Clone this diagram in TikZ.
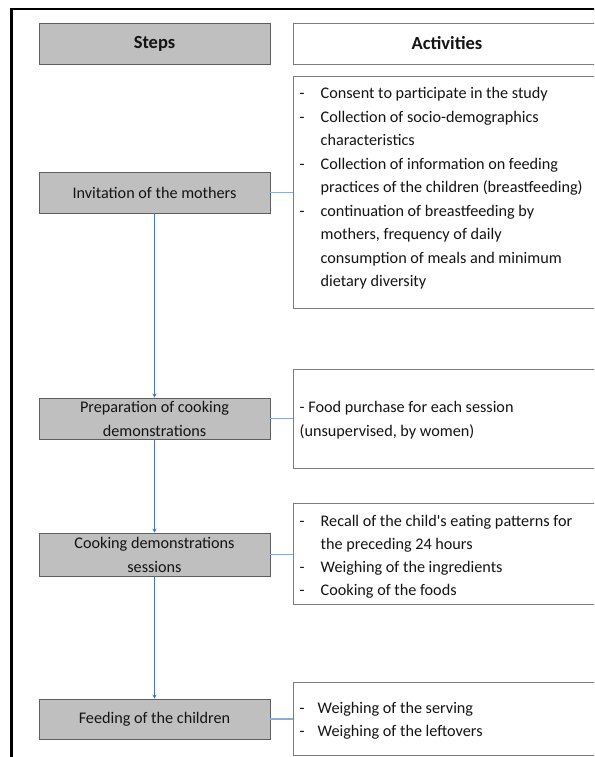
\documentclass[tikz,border=0pt]{standalone}
\usepackage{fontspec}
\setmainfont{Carlito}
\usetikzlibrary{arrows.meta}
\definecolor{stepfill}{RGB}{191,191,191}
\definecolor{stepdraw}{RGB}{95,95,95}
\definecolor{actdraw}{RGB}{125,125,125}
\definecolor{flowblue}{RGB}{68,114,196}
\definecolor{linkblue}{RGB}{143,170,220}
\definecolor{txt}{RGB}{20,20,20}
\tikzset{
  stepbox/.style={rectangle, draw=stepdraw, line width=0.9pt, fill=stepfill, minimum width=231pt, inner sep=0pt, align=center, text=txt, font=\fontsize{16.2}{24}\selectfont},
  actbox/.style={rectangle, draw=actdraw, line width=0.9pt, fill=white, minimum width=327pt, inner sep=0pt},
  acttext/.style={anchor=base west, inner sep=0pt, text=txt, font=\fontsize{16.2}{23.5}\selectfont},
  flow/.style={draw=flowblue, line width=0.7pt, -{Stealth[length=4pt,width=4pt]}},
  link/.style={draw=linkblue, line width=1.2pt},
  hdr/.style={font=\fontsize{18.5}{22}\selectfont\bfseries}
}
\begin{document}
\begin{tikzpicture}[x=1pt,y=-1pt]
\useasboundingbox (0,0) rectangle (594,757);
\clip (0,0) rectangle (594,757);
\fill[white] (0,0) rectangle (594,757);
% outer frame
\draw[line width=2.5pt] (11.5,760) -- (11.5,9) -- (600,9);
% headers
\node[stepbox, minimum height=41pt, hdr] (steps) at (154.5,43.5) {Steps};
\node[actbox, minimum height=41pt, text=txt, hdr] (acts) at (456.5,43.5) {\hspace*{-19pt}Activities};
% steps
\node[stepbox, minimum height=41pt] (inv) at (154.5,192.5) {Invitation of the mothers};
\node[stepbox, minimum height=41pt] (prep) at (154.5,418.5) {Preparation of cooking\\demonstrations};
\node[stepbox, minimum height=43pt] (cook) at (154.5,554.5) {Cooking demonstrations\\sessions};
\node[stepbox, minimum height=40pt] (feed) at (154.5,719) {Feeding of the children};
% activity boxes
\node[actbox, minimum height=232pt] (a1) at (456.5,192) {};
\node[actbox, minimum height=99pt] (a2) at (456.5,418.5) {};
\node[actbox, minimum height=101pt] (a3) at (456.5,553.5) {};
\node[actbox, minimum height=73pt] (a4) at (456.5,718.5) {};
% activity texts
\node[acttext] (t1) at (299.5,99) {\begin{tabular}[t]{@{}p{21pt}@{}l@{}}
-&Consent to participate in the study\\
-&Collection of socio-demographics\\
&characteristics\\
-&Collection of information on feeding\\
&practices of the children (breastfeeding)\\
-&continuation of breastfeeding by\\
&mothers, frequency of daily\\
&consumption of meals and minimum\\
&dietary diversity
\end{tabular}};
\node[acttext, font=\fontsize{16.2}{24.5}\selectfont] (t2) at (299.5,412) {\begin{tabular}[t]{@{}l@{}}
- Food purchase for each session\\
(unsupervised, by women)
\end{tabular}};
\node[acttext, font=\fontsize{16.2}{23}\selectfont] (t3) at (299.5,526) {\begin{tabular}[t]{@{}p{21pt}@{}l@{}}
-&Recall of the child\textquotesingle s eating patterns for\\
&the preceding 24 hours\\
-&Weighing of the ingredients\\
-&Cooking of the foods
\end{tabular}};
\node[acttext, font=\fontsize{16.2}{23}\selectfont] (t4) at (299.5,713) {\begin{tabular}[t]{@{}p{18pt}@{}l@{}}
-&Weighing of the serving\\
-&Weighing of the leftovers
\end{tabular}};
% flow arrows
\draw[flow] (inv.south) -- (prep.north);
\draw[flow] (prep.south) -- (cook.north);
\draw[flow] (cook.south) -- (feed.north);
% links
\draw[link] (inv.east) -- (inv.east -| a1.west);
\draw[link] (prep.east) -- (prep.east -| a2.west);
\draw[link] (cook.east) -- (cook.east -| a3.west);
\draw[link] (feed.east) -- (feed.east -| a4.west);
\end{tikzpicture}
\end{document}
